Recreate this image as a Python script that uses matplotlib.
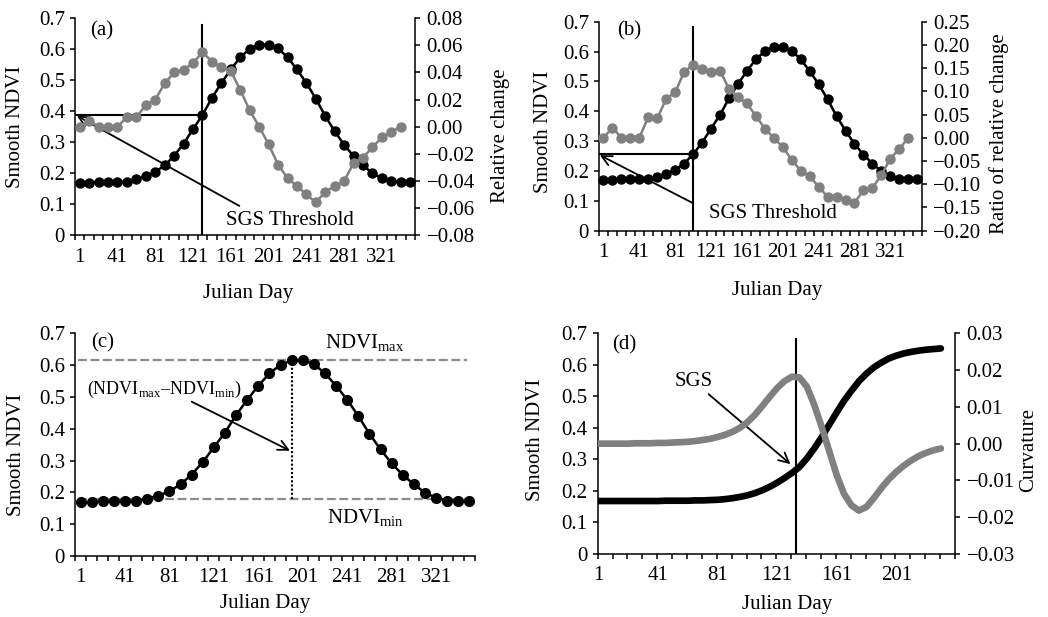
import numpy as np
import matplotlib
matplotlib.use('Agg')
import matplotlib.pyplot as plt
from matplotlib.ticker import FixedLocator, FuncFormatter, MultipleLocator

# ---------------- data ----------------
days = [1, 11, 21, 31, 41, 51, 61, 71, 81, 91, 101, 111, 121, 131, 141, 151, 161, 171,
        181, 191, 201, 211, 221, 231, 241, 251, 261, 271, 281, 291, 301, 311, 321, 331, 341, 351]
ndvi_smooth = [0.169, 0.169, 0.172, 0.172, 0.172, 0.172, 0.180, 0.189, 0.204, 0.225, 0.256, 0.295,
               0.342, 0.388, 0.443, 0.491, 0.535, 0.574, 0.601, 0.615, 0.615, 0.603, 0.574, 0.535,
               0.491, 0.440, 0.384, 0.335, 0.291, 0.255, 0.225, 0.199, 0.183, 0.174, 0.172, 0.172]
rel_change = [0.000, 0.004, 0.000, 0.000, 0.000, 0.007, 0.007, 0.016, 0.020, 0.032, 0.040, 0.042,
              0.047, 0.055, 0.048, 0.044, 0.041, 0.027, 0.012, 0.000, -0.013, -0.028, -0.038, -0.044,
              -0.050, -0.056, -0.048, -0.044, -0.040, -0.027, -0.023, -0.015, -0.008, -0.004, 0.000]
ratio_change = [0.000, 0.022, 0.000, 0.000, 0.000, 0.045, 0.042, 0.084, 0.098, 0.142, 0.157, 0.149,
                0.141, 0.144, 0.106, 0.088, 0.074, 0.047, 0.020, 0.000, -0.020, -0.047, -0.071, -0.083,
                -0.105, -0.127, -0.127, -0.134, -0.140, -0.113, -0.108, -0.080, -0.045, -0.024, 0.000]
x_tick_labels = [1, 41, 81, 121, 161, 201, 241, 281, 321]
sgs_idx_a = 13          # day 131
sgs_idx_b = 10          # day 101
peak_idx_c = 19         # day 191
ndvi_min_line = 0.179

days_d = [1, 6, 11, 16, 21, 26, 31, 36, 41, 46, 51, 56, 61, 66, 71, 76, 81, 86, 91, 96, 101, 106,
          111, 116, 121, 126, 131, 136, 141, 146, 151, 156, 161, 166, 171, 176, 181, 186, 191, 196,
          201, 206, 211, 216, 221, 226, 231]
ndvi_d = [0.168, 0.168, 0.168, 0.168, 0.168, 0.168, 0.168, 0.168, 0.168, 0.169, 0.169, 0.169, 0.169,
          0.170, 0.170, 0.171, 0.172, 0.174, 0.177, 0.181, 0.186, 0.193, 0.202, 0.213, 0.226, 0.241,
          0.257, 0.276, 0.303, 0.335, 0.371, 0.410, 0.449, 0.486, 0.518, 0.548, 0.572, 0.592, 0.607,
          0.620, 0.629, 0.636, 0.641, 0.645, 0.648, 0.650, 0.652]
curv_d = [0.0000, 0.0000, 0.0000, 0.0000, 0.0000, 0.0001, 0.0001, 0.0001, 0.0002, 0.0002, 0.0003,
          0.0004, 0.0005, 0.0007, 0.0010, 0.0013, 0.0018, 0.0024, 0.0032, 0.0043, 0.0058, 0.0078,
          0.0102, 0.0127, 0.0151, 0.0170, 0.0182, 0.0180, 0.0155, 0.0105, 0.0045, -0.0020, -0.0085,
          -0.0137, -0.0168, -0.0182, -0.0172, -0.0148, -0.0121, -0.0097, -0.0077, -0.0060, -0.0046,
          -0.0034, -0.0025, -0.0018, -0.0013]
x_tick_labels_d = [1, 41, 81, 121, 161, 201]
sgs_day_d = 134

# ---------------- style ----------------
plt.rcParams['font.family'] = ['Liberation Serif', 'DejaVu Serif']
plt.rcParams['font.size'] = 15
plt.rcParams['mathtext.fontset'] = 'custom'
plt.rcParams['mathtext.rm'] = 'Liberation Serif'
plt.rcParams['axes.unicode_minus'] = True

W, H = 1048, 617
fig = plt.figure(figsize=(W / 100, H / 100), dpi=100)
GRAY = '#808080'
SPW = 1.1


def px_axes(l, t, r, b):
    return fig.add_axes([l / W, 1 - b / H, (r - l) / W, (b - t) / H])


def ftext(x, y, s, **kw):
    fig.text(x / W, 1 - y / H, s, ha='center', va='center', **kw)


def left_fmt(v, p):
    return '0' if abs(v) < 1e-9 else f'{v:.1f}'


def right_fmt(v, p):
    s = f'{v:.2f}'
    if s in ('-0.00',):
        s = '0.00'
    return s.replace('-', '\u2212')


def style_main(ax, lo, hi, step, labels):
    ax.set_ylim(0, 0.7)
    ax.yaxis.set_major_locator(MultipleLocator(0.1))
    ax.yaxis.set_major_formatter(FuncFormatter(left_fmt))
    ax.tick_params(axis='y', direction='out', length=3.6, width=SPW, pad=3.6)
    ax.set_xlim(lo, hi)
    ax.xaxis.set_major_locator(FixedLocator(labels))
    ax.xaxis.set_minor_locator(FixedLocator(np.arange(lo, hi + 0.01, step)))
    ax.xaxis.set_major_formatter(FuncFormatter(lambda v, p: f'{v:.0f}'))
    ax.tick_params(axis='x', which='major', length=0, pad=9)
    ax.tick_params(axis='x', which='minor', direction='out', length=3.6, width=SPW)
    for s in ['top', 'right']:
        ax.spines[s].set_visible(False)
    for s in ['left', 'bottom']:
        ax.spines[s].set_linewidth(SPW)


def style_twin(ax2, lo, hi, step):
    ax2.set_ylim(lo, hi)
    ax2.yaxis.set_major_locator(MultipleLocator(step))
    ax2.yaxis.set_major_formatter(FuncFormatter(right_fmt))
    ax2.tick_params(axis='y', direction='out', length=3.6, width=SPW, pad=4.8)
    for s in ['top', 'left', 'bottom']:
        ax2.spines[s].set_visible(False)
    ax2.spines['right'].set_linewidth(SPW)


arrow = dict(arrowstyle='->', color='black', lw=1.3, shrinkA=0, shrinkB=0, mutation_scale=18)

# ---------------- (a) ----------------
axa = px_axes(75, 18.3, 415, 235)
style_main(axa, -4, 356, 10, x_tick_labels)
axa.plot(days, ndvi_smooth, color='black', lw=1.8, marker='o', ms=6.5, clip_on=False, zorder=3)
xa = days[sgs_idx_a]
ya = ndvi_smooth[sgs_idx_a]
axa.plot([xa, xa], [0, 0.677], color='black', lw=1.5, zorder=2)
axa.plot([-4, xa], [ya, ya], color='black', lw=1.5, zorder=2)
axa.annotate('', xy=(-2, ya - 0.003), xytext=(170, 0.094), arrowprops=arrow, zorder=4)
axa.text(224, 0.046, 'SGS Threshold', ha='center', va='center')
axa.text(24, 0.66, '(a)', ha='center', va='center')
axa2 = axa.twinx()
style_twin(axa2, -0.08, 0.08, 0.02)
axa2.plot(days[:len(rel_change)], rel_change, color=GRAY, lw=1.8, marker='o', ms=6.5, clip_on=False)

# ---------------- (b) ----------------
axb = px_axes(599, 21.7, 921.7, 230.7)
style_main(axb, -4, 356, 10, x_tick_labels)
axb.plot(days, ndvi_smooth, color='black', lw=1.8, marker='o', ms=6.5, clip_on=False, zorder=3)
xb = days[sgs_idx_b]
yb = ndvi_smooth[sgs_idx_b]
axb.plot([xb, xb], [0, 0.681], color='black', lw=1.5, zorder=2)
axb.plot([-4, xb], [yb, yb], color='black', lw=1.5, zorder=2)
axb.annotate('', xy=(-3, yb - 0.003), xytext=(xb, 0.092), arrowprops=arrow, zorder=4)
axb.text(190, 0.058, 'SGS Threshold', ha='center', va='center')
axb.text(30, 0.67, '(b)', ha='center', va='center')
axb2 = axb.twinx()
style_twin(axb2, -0.20, 0.25, 0.05)
axb2.plot(days[:len(ratio_change)], ratio_change, color=GRAY, lw=1.8, marker='o', ms=6.5, clip_on=False)

# ---------------- (c) ----------------
axc = px_axes(75, 333.3, 475, 556)
style_main(axc, -4, 356, 10, x_tick_labels)
ndvi_max = max(ndvi_smooth)
axc.plot([-1, 349], [ndvi_max, ndvi_max], color='#8c8c8c', lw=1.6, ls=(0, (4, 1.6)), zorder=2)
axc.plot([-1, 349], [ndvi_min_line, ndvi_min_line], color='#8c8c8c', lw=1.6, ls=(0, (4, 1.6)), zorder=2)
axc.plot(days, ndvi_smooth, color='black', lw=1.8, marker='o', ms=7, clip_on=False, zorder=3)
xc = days[peak_idx_c]
axc.plot([xc, xc], [ndvi_min_line, ndvi_max], color='black', lw=1.5, ls=(0, (1, 1)), zorder=2)
axc.annotate('', xy=(189.5, 0.331), xytext=(101, 0.485), arrowprops=arrow, zorder=4)
axc.text(7, 0.524, r'(NDVI$_{\mathrm{max}}$–NDVI$_{\mathrm{min}}$)', ha='left', va='center', fontsize=13)
axc.text(221, 0.669, r'NDVI$_{\mathrm{max}}$', ha='left', va='center')
axc.text(222.5, 0.118, r'NDVI$_{\mathrm{min}}$', ha='left', va='center')
axc.text(21, 0.67, '(c)', ha='center', va='center')

# ---------------- (d) ----------------
axd = px_axes(597.7, 333.3, 955, 554)
style_main(axd, 0.5, 240.5, 10, x_tick_labels_d)
axd.plot(days_d, ndvi_d, color='black', lw=4.8, solid_capstyle='round', zorder=3)
axd.plot([sgs_day_d, sgs_day_d], [0, 0.681], color='black', lw=1.5, zorder=4)
axd.annotate('', xy=(130, 0.285), xytext=(75, 0.507), arrowprops=arrow, zorder=5)
axd.text(64.7, 0.546, 'SGS', ha='center', va='center')
axd.text(18.6, 0.663, '(d)', ha='center', va='center')
axd2 = axd.twinx()
style_twin(axd2, -0.03, 0.03, 0.01)
axd2.plot(days_d, curv_d, color=GRAY, lw=4.8, solid_capstyle='round')

# ---------------- axis labels ----------------
ftext(16, 126.5, 'Smooth NDVI', rotation=90)
ftext(500, 136, 'Relative change', rotation=90)
ftext(248, 293, 'Julian Day')
ftext(543.3, 131.7, 'Smooth NDVI', rotation=90)
ftext(999, 133.3, 'Ratio of relative change', rotation=90)
ftext(776.7, 290, 'Julian Day')
ftext(16.7, 455, 'Smooth NDVI', rotation=90)
ftext(265, 603.3, 'Julian Day')
ftext(535.7, 440, 'Smooth NDVI', rotation=90)
ftext(1028.3, 450, 'Curvature', rotation=90)
ftext(787.3, 605, 'Julian Day')

fig.savefig('out.png', dpi=100)
